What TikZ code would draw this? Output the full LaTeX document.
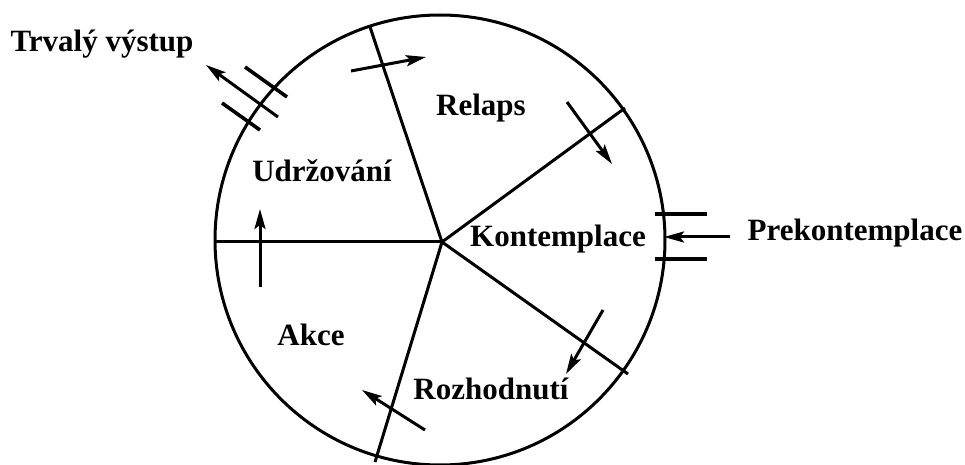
\documentclass[tikz,border=0pt]{standalone}
\usepackage{fontspec}
\setmainfont{Liberation Serif}
\usetikzlibrary{arrows.meta}
\begin{document}
\begin{tikzpicture}[x=0.5pt,y=-0.5pt,
  every path/.style={line width=1.5pt},
  arr/.style={-{Stealth[length=10pt,width=5.5pt,inset=2pt]}, line width=1.5pt},
  bar/.style={line width=1.8pt},
  lab/.style={font=\bfseries\fontsize{15.5}{18}\selectfont, inner sep=0pt}]
\useasboundingbox (0,0) rectangle (965,465);
% circle and spokes
\coordinate (C) at (440,240);
\coordinate (H) at (442,242);
\draw (C) circle [radius=112.5pt];
\coordinate (sTop) at (370,27);
\coordinate (sUR) at (625,108);
\coordinate (sL) at (215,242);
\coordinate (sLL) at (375,462);
\coordinate (sLR) at (628,374);
\draw (H) -- (sTop);
\draw (H) -- (sUR);
\draw (H) -- (sL);
\draw (H) -- (sLL);
\draw (H) -- (sLR);
% cycle arrows
\coordinate (a1s) at (351,71); \coordinate (a1e) at (426,57);
\coordinate (a2s) at (567,102); \coordinate (a2e) at (612,164);
\coordinate (a3s) at (603,310); \coordinate (a3e) at (566,374);
\coordinate (a4s) at (425,430); \coordinate (a4e) at (362,390);
\coordinate (a5s) at (260,287); \coordinate (a5e) at (260,209);
\draw[arr] (a1s) -- (a1e);
\draw[arr] (a2s) -- (a2e);
\draw[arr] (a3s) -- (a3e);
\draw[arr] (a4s) -- (a4e);
\draw[arr] (a5s) -- (a5e);
% exit
\coordinate (eS) at (278,117); \coordinate (eE) at (206,65);
\coordinate (b1s) at (245,67); \coordinate (b1e) at (287,97);
\coordinate (b2s) at (222,103); \coordinate (b2e) at (260,130);
\draw[arr] (eS) -- (eE);
\draw[bar] (b1s) -- (b1e);
\draw[bar] (b2s) -- (b2e);
% entry
\coordinate (pS) at (730,237); \coordinate (pE) at (664,237);
\coordinate (c1s) at (655,214); \coordinate (c1e) at (707,214);
\coordinate (c2s) at (655,259); \coordinate (c2e) at (707,259);
\draw[arr] (pS) -- (pE);
\draw[bar] (c1s) -- (c1e);
\draw[bar] (c2s) -- (c2e);
% labels
\node[lab] (trv) at (102,44) {Trvalý výstup};
\node[lab] (rel) at (481,108) {Relaps};
\node[lab] (udr) at (322,171) {Udržování};
\node[lab] (kon) at (558,239) {Kontemplace};
\node[lab] (akc) at (311,335) {Akce};
\node[lab] (roz) at (491,389) {Rozhodnutí};
\node[lab] (pre) at (855,233) {Prekontemplace};
\end{tikzpicture}
\end{document}
